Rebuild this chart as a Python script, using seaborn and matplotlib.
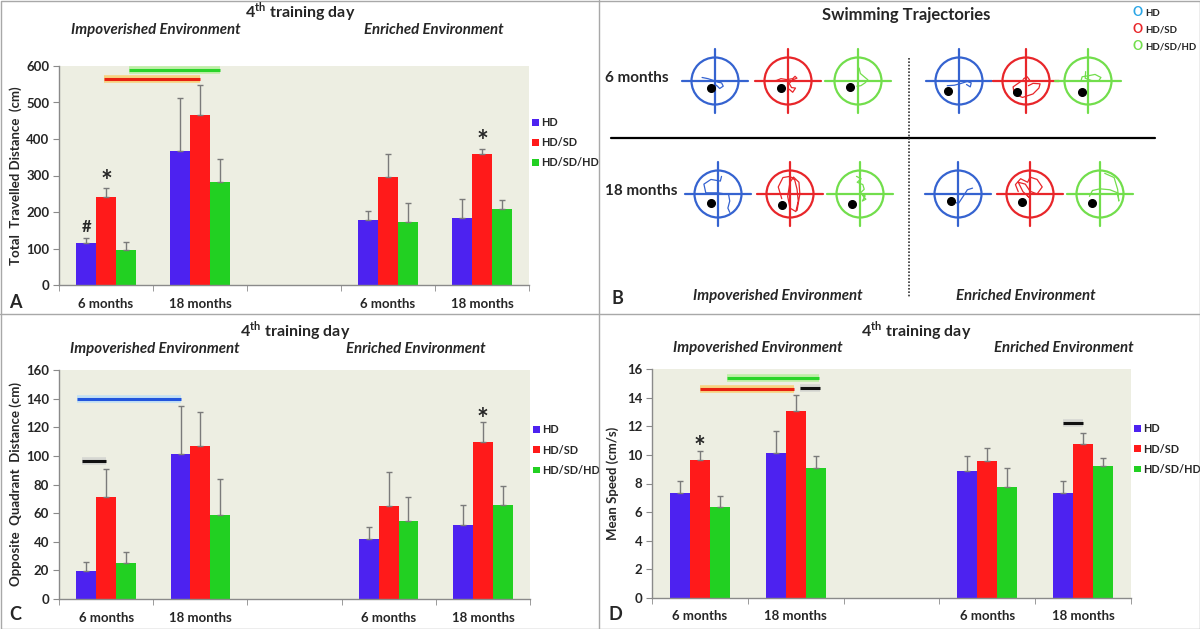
import numpy as np
import pandas as pd
import matplotlib
matplotlib.use("Agg")
import matplotlib.pyplot as plt
import seaborn as sns
from matplotlib.patches import Circle, Patch
from matplotlib.lines import Line2D

groups = ["HD", "HD/SD", "HD/SD/HD"]
slots = ["imp6", "imp18", "gap", "enr6", "enr18"]
slot_labels = ["6 months", "18 months", "", "6 months", "18 months"]
bar_slots = ["imp6", "imp18", "enr6", "enr18"]

# A - total travelled distance (cm)
dist_hd = [115, 368, 178, 183]
dist_hdsd = [240, 466, 295, 360]
dist_hdsdhd = [97, 282, 173, 208]
dist_err_hd = [15, 144, 24, 52]
dist_err_hdsd = [25, 82, 63, 13]
dist_err_hdsdhd = [20, 62, 51, 26]

# C - opposite quadrant distance (cm)
opp_hd = [19.5, 101, 42, 51.5]
opp_hdsd = [71, 107, 65, 109.5]
opp_hdsdhd = [25, 59, 54.5, 66]
opp_err_hd = [6.5, 34, 8.5, 14.5]
opp_err_hdsd = [19.5, 24, 24, 14]
opp_err_hdsdhd = [8, 24.5, 16.5, 13]

# D - mean speed (cm/s)
speed_hd = [7.35, 10.15, 8.9, 7.35]
speed_hdsd = [9.65, 13.05, 9.6, 10.75]
speed_hdsdhd = [6.35, 9.05, 7.75, 9.25]
speed_err_hd = [0.8, 1.55, 1.05, 0.8]
speed_err_hdsd = [0.65, 1.15, 0.85, 0.8]
speed_err_hdsdhd = [0.8, 0.85, 1.35, 0.55]

bar_colors = ["#4d22f0", "#ff1a1a", "#22d022"]
traj_colors = ["#3563d0", "#e8262a", "#72de4c"]
legend_o_colors = ["#2ba6e6", "#e8262a", "#72de4c"]

W, H = 1200, 629

sns.set_style("ticks")
plt.rcParams["font.family"] = ["Lato", "DejaVu Sans"]
plt.rcParams["font.weight"] = "bold"
plt.rcParams["mathtext.fontset"] = "custom"
plt.rcParams["mathtext.rm"] = "Lato:bold"
plt.rcParams["mathtext.bf"] = "Lato:bold"

fig = plt.figure(figsize=(12, 6.29), dpi=100)


def ftext(x, y, s, **kw):
    kw.setdefault("ha", "center")
    kw.setdefault("va", "center")
    kw.setdefault("fontweight", "bold")
    fig.text(x / W, 1 - y / H, s, **kw)


def px_axes(left, top, right, bottom):
    return fig.add_axes([left / W, 1 - bottom / H, (right - left) / W, (bottom - top) / H])


def make_df(hd, hdsd, hdsdhd, ehd, ehdsd, ehdsdhd):
    rows = []
    for g, vals, errs in zip(groups, [hd, hdsd, hdsdhd], [ehd, ehdsd, ehdsdhd]):
        for s, v, e in zip(bar_slots, vals, errs):
            rows.append((s, g, v, e))
    return pd.DataFrame(rows, columns=["slot", "group", "value", "err"])


def bar_panel(box, df, ymax, ystep, ylabel, label_x):
    ax = px_axes(*box)
    sns.barplot(data=df, x="slot", y="value", hue="group", order=slots,
                hue_order=groups, palette=bar_colors, saturation=1, width=0.63, gap=0,
                errorbar=None, legend=False, linewidth=0, ax=ax)
    centers = {}
    for g, cont in zip(groups, ax.containers):
        bars = sorted(cont, key=lambda p: p.get_x())
        xs = [b.get_x() + b.get_width() / 2 for b in bars]
        hs = [b.get_height() for b in bars]
        errs = df[df.group == g].set_index("slot").loc[bar_slots, "err"].values
        ax.errorbar(xs, hs, yerr=[np.zeros(len(errs)), errs], fmt="none",
                    ecolor="#7a7a7a", elinewidth=1, capsize=2.5, capthick=1)
        centers[g] = xs
    ax.set_facecolor("#edeee2")
    ax.set_xlim(-0.5, 4.5)
    ax.set_ylim(0, ymax)
    ax.set_yticks(np.arange(0, ymax + ystep / 2, ystep))
    ax.set_xticks(range(5))
    ax.set_xticklabels(slot_labels)
    ax.set_xticks(np.arange(-0.5, 5, 1), minor=True)
    ax.tick_params(axis="x", which="major", length=0, pad=9, labelsize=9.5)
    ax.tick_params(axis="x", which="minor", length=4, color="#8a8a8a", direction="out")
    ax.tick_params(axis="y", length=4, color="#8a8a8a", labelsize=9.5, pad=3)
    for lab in ax.get_xticklabels() + ax.get_yticklabels():
        lab.set_fontweight("bold")
    for sp in ["top", "right"]:
        ax.spines[sp].set_visible(False)
    for sp in ["left", "bottom"]:
        ax.spines[sp].set_color("#8a8a8a")
        ax.spines[sp].set_linewidth(1)
    ax.set_xlabel("")
    ax.set_ylabel(ylabel, fontsize=9.5, fontweight="bold")
    ax.yaxis.set_label_coords((label_x - box[0]) / (box[2] - box[0]), 0.5)
    handles = [Patch(facecolor=c, edgecolor="none") for c in bar_colors]
    ax.legend(handles, groups, loc="center left", bbox_to_anchor=(1.0, 0.65),
              frameon=False, borderaxespad=0, borderpad=0.3, handlelength=0.6,
              handleheight=0.6, handletextpad=0.2, labelspacing=0.85,
              prop={"weight": "bold", "size": 7.8})
    return ax, centers


def sig_line(ax, x0, x1, y, color, glow):
    ax.plot([x0, x1], [y, y], color=glow, lw=5.5, alpha=0.6, solid_capstyle="butt", zorder=4)
    ax.plot([x0, x1], [y, y], color=color, lw=2.2, solid_capstyle="butt", zorder=5)


def mark(ax, x, y, s, size=20):
    ax.text(x, y, s, ha="center", va="center", fontsize=size, fontweight="bold", zorder=6)


title_txt = "4$^{\\mathbf{th}}$ training day"
env_size = 10.8

# ---- panel A
df_a = make_df(dist_hd, dist_hdsd, dist_hdsdhd, dist_err_hd, dist_err_hdsd, dist_err_hdsdhd)
ax_a, ca = bar_panel((59, 66, 529, 285), df_a, 600, 100, "Total  Travelled Distance  (cm)", 22)
sig_line(ax_a, ca["HD/SD"][0] - 0.02, ca["HD/SD"][1], 565, "#e82010", "#ffc040")
sig_line(ax_a, ca["HD/SD/HD"][0] + 0.03, ca["HD/SD/HD"][1], 588, "#2ad42a", "#a0f080")
mark(ax_a, ca["HD"][0], 160, "#", 12)
mark(ax_a, ca["HD/SD"][0], 283, "*")
mark(ax_a, ca["HD/SD"][3], 392, "*")
ftext(300, 12, title_txt, fontsize=11.5)
ftext(156, 30, "Impoverished Environment", fontsize=env_size, style="italic")
ftext(434, 30, "Enriched Environment", fontsize=env_size, style="italic")
ftext(15, 302, "A", fontsize=13)

# ---- panel C
df_c = make_df(opp_hd, opp_hdsd, opp_hdsdhd, opp_err_hd, opp_err_hdsd, opp_err_hdsdhd)
ax_c, cc = bar_panel((59, 370, 530, 599), df_c, 160, 20, "Opposite  Quadrant  Distance (cm)", 22)
sig_line(ax_c, cc["HD"][0] - 0.1, cc["HD"][1], 140, "#2255dd", "#a8d8ff")
sig_line(ax_c, cc["HD"][0] - 0.05, cc["HD/SD"][0], 96.5, "#111111", "#c8c8c8")
mark(ax_c, cc["HD/SD"][3], 125, "*")
ftext(295, 331, title_txt, fontsize=11.5)
ftext(155, 349, "Impoverished Environment", fontsize=env_size, style="italic")
ftext(416, 349, "Enriched Environment", fontsize=env_size, style="italic")
ftext(15, 615, "C", fontsize=13)

# ---- panel D
df_d = make_df(speed_hd, speed_hdsd, speed_hdsdhd, speed_err_hd, speed_err_hdsd, speed_err_hdsdhd)
ax_d, cd = bar_panel((652, 369, 1131, 598), df_d, 16, 2, "Mean Speed (cm/s)", 619)
sig_line(ax_d, cd["HD/SD/HD"][0] + 0.07, cd["HD/SD/HD"][1] + 0.03, 15.4, "#2ad42a", "#a0f080")
sig_line(ax_d, cd["HD/SD"][0], cd["HD/SD"][1] - 0.02, 14.6, "#e82010", "#ffc040")
sig_line(ax_d, cd["HD/SD"][1] + 0.04, cd["HD/SD/HD"][1] + 0.04, 14.65, "#111111", "#c8c8c8")
sig_line(ax_d, cd["HD"][3], cd["HD/SD"][3], 12.2, "#111111", "#c8c8c8")
mark(ax_d, cd["HD/SD"][0], 10.5, "*")
ftext(916, 331, title_txt, fontsize=11.5)
ftext(758, 348, "Impoverished Environment", fontsize=env_size, style="italic")
ftext(1064, 348, "Enriched Environment", fontsize=env_size, style="italic")
ftext(615, 615, "D", fontsize=13)

# ---- panel B: swimming trajectories (sketch)
ax_b = fig.add_axes([0.5, 0.5, 0.5, 0.5])
ax_b.set_xlim(600, 1200)
ax_b.set_ylim(H / 2, 0)
ax_b.axis("off")

row_y = [81, 194]
row_labels = ["6 months", "18 months"]
col_x = [[715, 788, 858, 959, 1026, 1088], [718, 790, 860, 958, 1030, 1100]]
radius = 23.5

# platform position per circle (radius units, x right / y up)
platform = [
    [(-0.17, -0.28), (-0.3, -0.28), (-0.35, -0.25), (-0.45, -0.42), (-0.4, -0.45), (-0.25, -0.45)],
    [(-0.3, -0.37), (-0.35, -0.45), (-0.35, -0.42), (-0.3, -0.28), (-0.35, -0.35), (-0.33, -0.37)],
]

# hand-traced swim paths (radius units)
paths = [
    [
        [(-0.55, 0.15), (-0.3, 0.1), (-0.05, 0.02), (0.12, -0.05), (0.28, -0.08), (0.35, -0.22), (0.2, -0.32), (0.06, -0.18), (0.0, -0.22)],
        [(-0.8, 0.0), (-0.5, 0.02), (-0.3, 0.1), (-0.05, 0.06), (0.2, 0.1), (0.3, 0.2), (0.38, 0.12), (0.2, 0.05), (0.05, -0.1), (0.15, -0.28), (0.32, -0.3), (0.2, -0.48), (0.05, -0.35)],
        [(0.05, 0.55), (0.1, 0.32), (0.3, 0.15), (0.42, 0.05), (0.3, -0.08), (0.12, -0.2), (-0.05, -0.22)],
        [(-0.5, -0.2), (-0.2, -0.18), (0.1, -0.1), (0.35, -0.02), (0.52, -0.08), (0.48, -0.25), (0.32, -0.15)],
        [(-0.1, 0.1), (0.05, 0.18), (0.15, 0.05), (0.0, -0.05), (-0.12, 0.05), (-0.55, -0.25), (-0.5, -0.55), (-0.15, -0.7), (0.3, -0.55), (0.55, -0.3), (0.6, -0.12), (0.3, -0.1), (0.1, -0.2)],
        [(-0.3, 0.0), (-0.25, 0.18), (0.0, 0.22), (0.3, 0.28), (0.55, 0.15), (0.45, 0.0), (0.15, 0.02), (-0.12, 0.12), (-0.1, 0.4)],
    ],
    [
        [(0.15, 0.75), (0.1, 0.55), (-0.3, 0.62), (-0.6, 0.42), (-0.52, 0.05), (0.0, 0.05), (0.45, -0.02), (0.5, -0.3), (0.42, -0.6), (0.5, -0.78)],
        [(-0.35, -0.2), (-0.5, 0.3), (-0.3, 0.7), (0.0, 0.75), (0.2, 0.6), (0.3, 0.2), (0.35, -0.3), (0.25, -0.75), (0.0, -0.6), (-0.1, -0.1), (0.0, 0.5), (0.15, 0.72), (0.38, 0.5), (0.42, 0.0), (0.3, -0.7)],
        [(-0.15, 0.75), (0.05, 0.65), (-0.12, 0.5), (0.12, 0.4), (0.18, 0.2), (0.02, 0.05), (0.22, -0.08), (0.1, -0.3), (0.25, -0.22), (0.1, -0.05)],
        [(-0.3, -0.15), (-0.15, -0.35), (0.02, -0.4), (0.22, -0.1), (0.4, 0.18), (0.62, 0.25)],
        [(-0.5, 0.1), (-0.62, 0.4), (-0.4, 0.65), (-0.1, 0.5), (0.0, 0.72), (0.3, 0.62), (0.52, 0.3), (0.3, 0.0), (0.0, 0.12), (-0.2, 0.42), (-0.5, 0.5), (-0.3, 0.1), (0.0, -0.18), (-0.1, -0.08)],
        [(-0.45, -0.1), (-0.32, 0.15), (0.0, 0.22), (0.42, 0.18), (0.75, 0.05), (0.8, -0.3), (0.75, 0.2), (0.6, 0.7), (0.2, 0.88)],
    ],
]

for r in range(2):
    cy = row_y[r]
    ax_b.text(605, cy - 3, row_labels[r], ha="left", va="center", fontsize=11, fontweight="bold")
    for k in range(6):
        cx = col_x[r][k]
        col = traj_colors[k % 3]
        ax_b.add_patch(Circle((cx, cy), radius, fill=False, ec=col, lw=1.6))
        ax_b.plot([cx - 33, cx + 33], [cy, cy], color=col, lw=1.6)
        ax_b.plot([cx, cx], [cy - 32, cy + 32], color=col, lw=1.6)
        pts = np.array(paths[r][k])
        ax_b.plot(cx + radius * pts[:, 0], cy - radius * pts[:, 1], color=col, lw=0.9)
        px, py = platform[r][k]
        ax_b.plot(cx + radius * px, cy - radius * py, "o", color="black", ms=5.5)

ax_b.plot([611, 1155], [138, 138], color="black", lw=1.6)
ax_b.plot([909, 909], [58, 297], color="#333333", lw=1.2, ls=(0, (1, 1)))
ax_b.text(906, 15, "Swimming Trajectories", ha="center", va="center", fontsize=12, fontweight="bold")
ax_b.text(778, 296, "Impoverished Environment", ha="center", va="center", fontsize=env_size,
          fontweight="bold", style="italic")
ax_b.text(1026, 296, "Enriched Environment", ha="center", va="center", fontsize=env_size,
          fontweight="bold", style="italic")
ax_b.text(617, 299, "B", ha="center", va="center", fontsize=13, fontweight="bold")
for i, g in enumerate(groups):
    ax_b.text(1138, 12 + 17 * i, "O", ha="center", va="center", fontsize=9,
              color=legend_o_colors[i])
    ax_b.text(1145, 13 + 17 * i, g, ha="left", va="center", fontsize=7)

# panel frames
fr = dict(color="#a8a8a8", lw=1)
fig.add_artist(Line2D([599 / W, 599 / W], [0, 1], **fr))
fig.add_artist(Line2D([0, 1], [1 - 314 / H, 1 - 314 / H], **fr))
fig.add_artist(Line2D([0.5 / W, 0.5 / W, 1 - 0.5 / W, 1 - 0.5 / W, 0.5 / W],
                      [0.5 / H, 1 - 0.5 / H, 1 - 0.5 / H, 0.5 / H, 0.5 / H], **fr))

fig.savefig("out.png", dpi=100)
